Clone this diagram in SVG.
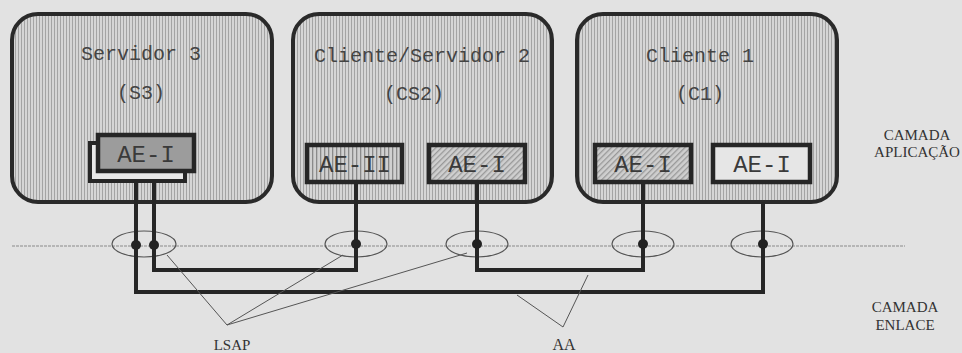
<svg xmlns="http://www.w3.org/2000/svg" width="962" height="353" viewBox="0 0 962 353">
<defs>
<pattern id="vert" width="3" height="4" patternUnits="userSpaceOnUse">
<rect width="3" height="4" fill="#d6d6d6"/>
<rect x="0" width="1" height="4" fill="#a4a4a4"/>
</pattern>
<pattern id="vert2" width="4" height="4" patternUnits="userSpaceOnUse">
<rect width="4" height="4" fill="#d0d0d0"/>
<rect x="0" width="1.3" height="4" fill="#8a8a8a"/>
</pattern>
<pattern id="diag" width="4" height="4" patternUnits="userSpaceOnUse" patternTransform="rotate(45)">
<rect width="4" height="4" fill="#cfcfcf"/>
<rect width="1.3" height="4" fill="#999"/>
</pattern>
</defs>
<style>
.box{fill:url(#vert);stroke:#2a2a2a;stroke-width:4}
.ae{stroke:#262626;stroke-width:4.5}
.lbl{font-family:"Liberation Mono",monospace;font-size:20px;fill:#444;text-anchor:middle}
.aet{font-family:"Liberation Mono",monospace;font-size:24px;fill:#3a3a3a;text-anchor:middle}
.side{font-family:"Liberation Serif",serif;font-size:15px;fill:#333;text-anchor:middle}
.wire{fill:none;stroke:#262626;stroke-width:4}
.thin{fill:none;stroke:#555;stroke-width:1}
.ell{fill:none;stroke:#555;stroke-width:1.2}
.dot{fill:#222}
</style>
<rect width="962" height="353" fill="#e2e2e2"/>
<line x1="12" y1="246" x2="905" y2="246" stroke="#8a8a8a" stroke-width="1" stroke-dasharray="3 1"/>
<g id="S3">
<rect class="box" x="12" y="14" width="260" height="188" rx="26"/>
<text class="lbl" x="141" y="60">Servidor 3</text>
<text class="lbl" x="141" y="99">(S3)</text>
<rect x="90" y="143" width="95" height="38" fill="#e8e8e8" stroke="#262626" stroke-width="4"/>
<rect class="ae" x="98" y="135" width="96" height="36" fill="#9c9c9c"/>
<text class="aet" x="146" y="162">AE-I</text>
</g>
<g id="CS2">
<rect class="box" x="293" y="14" width="259" height="188" rx="26"/>
<text class="lbl" x="422" y="62">Cliente/Servidor 2</text>
<text class="lbl" x="414" y="100">(CS2)</text>
<rect class="ae" x="307" y="145" width="95" height="37" fill="url(#vert2)"/>
<text class="aet" x="355" y="172">AE-II</text>
<rect class="ae" x="429" y="145" width="96" height="37" fill="url(#diag)"/>
<text class="aet" x="477" y="172">AE-I</text>
</g>
<g id="C1">
<rect class="box" x="577" y="14" width="260" height="188" rx="26"/>
<text class="lbl" x="700" y="62">Cliente 1</text>
<text class="lbl" x="700" y="100">(C1)</text>
<rect class="ae" x="595" y="145" width="96" height="37" fill="url(#diag)"/>
<text class="aet" x="643" y="172">AE-I</text>
<rect class="ae" x="713" y="145" width="97" height="37" fill="#e6e6e6"/>
<text class="aet" x="762" y="172">AE-I</text>
</g>
<g id="connectors">
<ellipse class="ell" cx="144" cy="244" rx="32" ry="13"/>
<ellipse class="ell" cx="356" cy="244" rx="31" ry="13"/>
<ellipse class="ell" cx="477" cy="244" rx="31" ry="13"/>
<ellipse class="ell" cx="643" cy="244" rx="31" ry="13"/>
<ellipse class="ell" cx="762" cy="244" rx="31" ry="13"/>
<path class="wire" d="M136 182 V292 H763 V202"/>
<path class="wire" d="M154 182 V270 H356 V184"/>
<path class="wire" d="M477 184 V270 H643 V184"/>
<circle class="dot" cx="136" cy="245" r="5"/>
<circle class="dot" cx="154" cy="245" r="5"/>
<circle class="dot" cx="356" cy="244" r="5"/>
<circle class="dot" cx="477" cy="244" r="5"/>
<circle class="dot" cx="643" cy="244" r="5"/>
<circle class="dot" cx="763" cy="244" r="5"/>
<path class="thin" d="M167 255 L227 325 L343 255 M227 325 L467 253"/>
<path class="thin" d="M517 295 L563 327 L588 275"/>
</g>
<text class="side" x="232" y="350">LSAP</text>
<text class="side" x="564" y="350" style="font-size:16px">AA</text>
<text class="side" x="917" y="140">CAMADA</text>
<text class="side" x="917" y="157">APLICAÇÃO</text>
<text class="side" x="905" y="312">CAMADA</text>
<text class="side" x="905" y="330">ENLACE</text>
</svg>
